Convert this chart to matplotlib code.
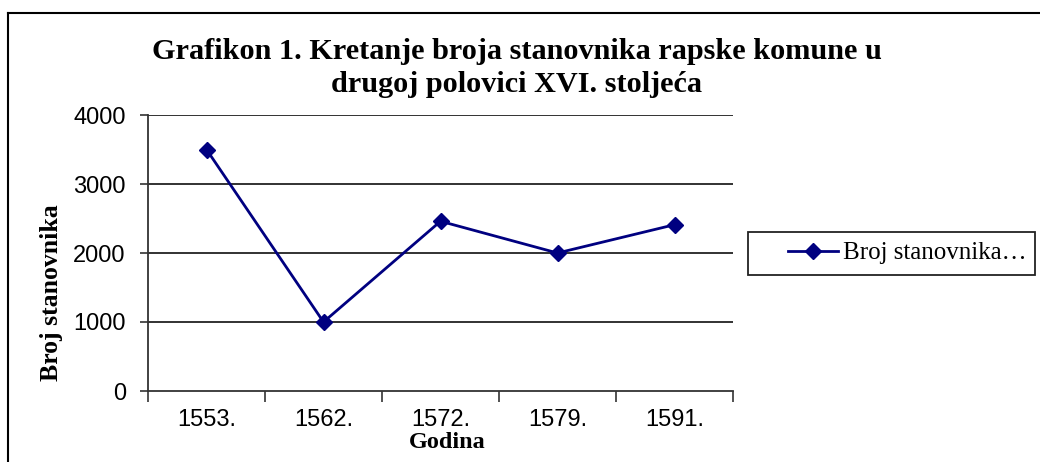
import matplotlib.pyplot as plt
from matplotlib.lines import Line2D
from matplotlib.patches import Rectangle

years = ['1553.', '1562.', '1572.', '1579.', '1591.']
population = [3500, 1000, 2460, 2000, 2410]
y_ticks = [0, 1000, 2000, 3000, 4000]

serif = ['Liberation Serif', 'DejaVu Serif']
sans = ['Liberation Sans', 'DejaVu Sans']

W, H = 1040, 462
fig = plt.figure(figsize=(W / 100, H / 100), dpi=100)
ax = fig.add_axes([148 / W, 1 - 391 / H, 585 / W, 276 / H])

x = list(range(len(years)))
ax.plot(x, population, color='#000080', lw=2, marker='D', ms=8,
        label='Broj stanovnika…')

ax.set_xlim(-0.5, len(years) - 0.5)
ax.set_ylim(0, 4000)
ax.set_yticks(y_ticks)
ax.set_yticklabels([str(v) for v in y_ticks], family=sans, fontsize=17)
ax.set_xticks(x)
ax.set_xticklabels(years, family=sans, fontsize=17)
ax.set_xticks([i - 0.5 for i in range(len(years) + 1)], minor=True)
ax.tick_params(axis='x', which='major', length=0, pad=13)
ax.tick_params(axis='x', which='minor', length=8, width=1.2, color='#333333')
ax.tick_params(axis='y', length=6, width=1.2, color='#333333', pad=10)

for v in y_ticks[1:]:
    ax.axhline(v, color='#222222', lw=1.3, zorder=0)
for s in ['top', 'right']:
    ax.spines[s].set_visible(False)
for s in ['left', 'bottom']:
    ax.spines[s].set_color('#333333')
    ax.spines[s].set_linewidth(1.3)

ax.set_ylabel('Broj stanovnika', family=serif, fontweight='bold', fontsize=18.5)
ax.yaxis.set_label_coords((63 - 148) / 585, (391 - 293) / 276)
ax.set_xlabel('Godina', family=serif, fontweight='bold', fontsize=17.5)
ax.xaxis.set_label_coords((447 - 148) / 585, -(432 - 391) / 276)

fig.text(0.497, 0.918, 'Grafikon 1. Kretanje broja stanovnika rapske komune u\ndrugoj polovici XVI. stoljeća',
         ha='center', va='top', family=serif, fontweight='bold', fontsize=21.75,
         multialignment='center', linespacing=1.3)

# legend box
fig.add_artist(Rectangle((748 / W, 1 - 275 / H), 287 / W, 43 / H, transform=fig.transFigure,
                         fill=False, edgecolor='#222222', lw=1.3))
fig.legend(loc='center left', bbox_to_anchor=(788 / W, 1 - 253 / H),
           prop={'family': serif, 'size': 18}, frameon=False,
           handlelength=2.0, handletextpad=0.2, borderpad=0, borderaxespad=0)

# outer chart frame
fig.add_artist(Line2D([8 / W, 1], [1 - 13 / H] * 2, transform=fig.transFigure,
                      color='black', lw=1.5))
fig.add_artist(Line2D([8 / W] * 2, [0, 1 - 13 / H], transform=fig.transFigure,
                      color='black', lw=1.5))

fig.savefig('out.png', dpi=100)
